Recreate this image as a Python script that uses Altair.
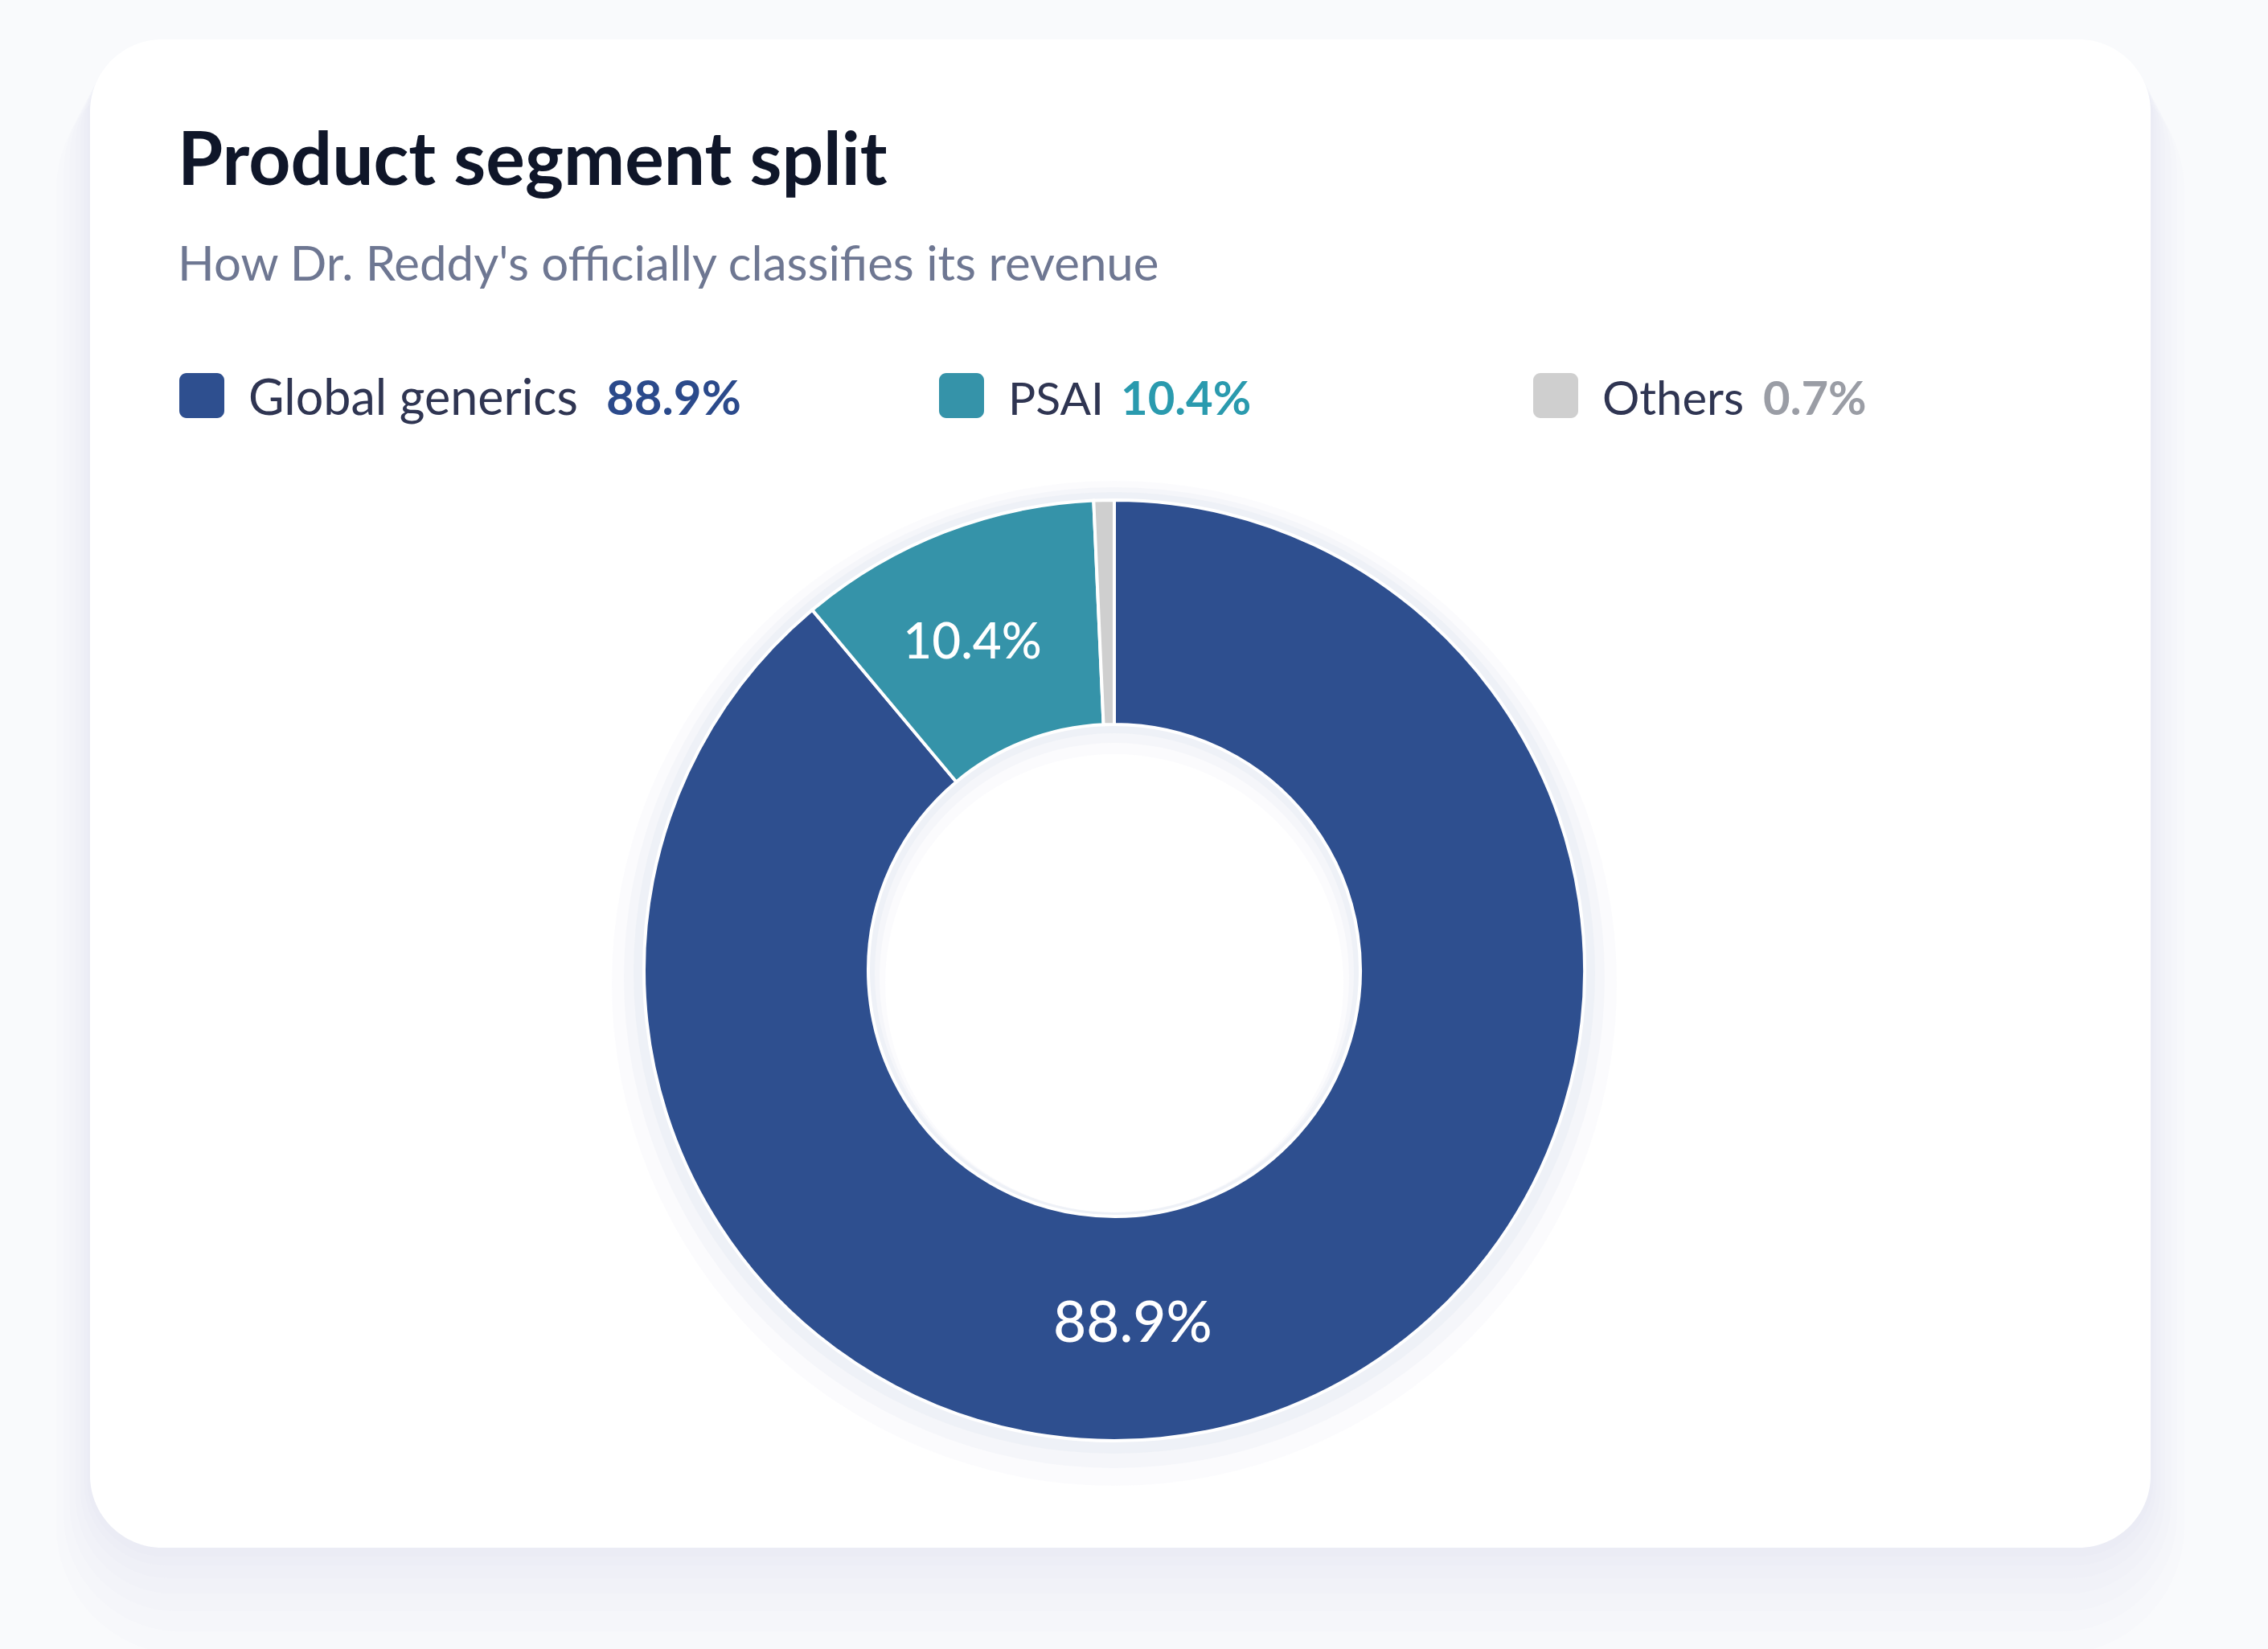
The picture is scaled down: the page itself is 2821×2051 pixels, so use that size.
import math
import altair as alt
import pandas as pd

# ---------------- data ----------------
segments = ["Global generics", "PSAI", "Others"]
shares = [88.9, 10.4, 0.7]
seg_colors = ["#2E4F8F", "#3593A9", "#CFCFCF"]
pct_colors = ["#2B4A8B", "#2A9AAE", "#9A9DA5"]

title_text = "Product segment split"
subtitle_text = "How Dr. Reddy's officially classifies its revenue"

df = pd.DataFrame({
    "segment": segments,
    "share": shares,
    "idx": list(range(len(segments))),
    "pct": [f"{v}%" for v in shares],
})

W, H = 2821, 2051
FONT = "Lato"
CX, CY = 1386, 1207
R_OUT, R_IN = 585, 306

one = pd.DataFrame({"k": [0]})
layers = []

# ---------------- card shadow + card ----------------
card = dict(x=112, x2=2675, y=49, y2=1925)
for i, e in enumerate([70, 55, 42, 30, 20, 12, 6]):
    off = int(e * 0.9)
    layers.append(
        alt.Chart(one).mark_rect(cornerRadius=90 + e, fill="#c9d2df", opacity=0.045)
        .encode(x=alt.value(card["x"] - e * 0.6), x2=alt.value(card["x2"] + e * 0.6),
                y=alt.value(card["y"] - e * 0.5 + off), y2=alt.value(card["y2"] + e + off))
    )
layers.append(
    alt.Chart(one).mark_rect(cornerRadius=90, fill="#ffffff")
    .encode(x=alt.value(card["x"]), x2=alt.value(card["x2"]),
            y=alt.value(card["y"]), y2=alt.value(card["y2"]))
)

# ---------------- title ----------------
layers.append(
    alt.Chart(one).mark_text(text=title_text, font=FONT, fontSize=91, fontWeight="bold",
                             color="#0F1629", align="left", baseline="alphabetic")
    .encode(x=alt.value(221), y=alt.value(230))
)
layers.append(
    alt.Chart(one).mark_text(text=subtitle_text, font=FONT, fontSize=60,
                             color="#6E7792", align="left", baseline="alphabetic")
    .encode(x=alt.value(221), y=alt.value(349))
)

# ---------------- legend ----------------
leg_sw = [223, 1168, 1907]
leg_lab = [309, 1254, 1993]
leg_pct = [754, 1394, 2193]
lab_size = [61, 57, 58]
color_scale = alt.Scale(domain=segments, range=seg_colors)
for i, seg in enumerate(segments):
    sub = df[df["segment"] == seg]
    layers.append(
        alt.Chart(sub).mark_rect(cornerRadius=9)
        .encode(x=alt.value(leg_sw[i]), x2=alt.value(leg_sw[i] + 56),
                y=alt.value(464), y2=alt.value(520),
                color=alt.Color("segment:N", scale=color_scale, legend=None))
    )
    layers.append(
        alt.Chart(sub).mark_text(font=FONT, fontSize=lab_size[i], color="#2F3552",
                                 align="left", baseline="alphabetic")
        .encode(x=alt.value(leg_lab[i]), y=alt.value(516), text="segment:N")
    )
    layers.append(
        alt.Chart(sub).mark_text(font=FONT, fontSize=60 if i == 0 else 58, fontWeight="bold",
                                 color=pct_colors[i], align="left", baseline="alphabetic")
        .encode(x=alt.value(leg_pct[i]), y=alt.value(516), text="pct:N")
    )

# ---------------- donut halo ----------------
for rr, r2, op, dy in [(625, 285, 0.10, 16), (610, 292, 0.14, 9), (598, 298, 0.18, 3)]:
    layers.append(
        alt.Chart(one).mark_arc(radius=rr, radius2=r2, fill="#d5dce7", opacity=op)
        .encode(theta=alt.value(0), theta2=alt.value(2 * math.pi),
                x=alt.value(CX), y=alt.value(CY + dy))
    )

# ---------------- donut ----------------
layers.append(
    alt.Chart(df).mark_arc(radius=R_OUT, radius2=R_IN, stroke="#ffffff", strokeWidth=4)
    .encode(theta=alt.Theta("share:Q", stack=True),
            order=alt.Order("idx:Q"),
            color=alt.Color("segment:N", scale=color_scale, legend=None),
            x=alt.value(CX), y=alt.value(CY))
)

# inner labels
layers.append(
    alt.Chart(df).mark_text(radius=444, thetaOffset=-0.038, font=FONT, fontSize=62, fontWeight=500,
                            color="#ffffff", align="center", baseline="middle")
    .encode(theta=alt.Theta("share:Q", stack=True), order=alt.Order("idx:Q"),
            text=alt.Text("lbl:N"), x=alt.value(CX), y=alt.value(CY))
    .transform_calculate(lbl="datum.segment == 'PSAI' ? datum.pct : ''")
)
layers.append(
    alt.Chart(df).mark_text(radius=442, thetaOffset=0.297, font=FONT, fontSize=71, fontWeight=500,
                            color="#ffffff", align="center", baseline="middle")
    .encode(theta=alt.Theta("share:Q", stack=True), order=alt.Order("idx:Q"),
            text=alt.Text("lbl:N"), x=alt.value(CX), y=alt.value(CY))
    .transform_calculate(lbl="datum.segment == 'Global generics' ? datum.pct : ''")
)

chart = alt.layer(*layers).properties(
    width=W, height=H, padding=0,
    autosize=alt.AutoSizeParams(type="fit", contains="padding"),
    background="#F9FAFC",
).configure_view(stroke=None)

chart.save("out.html", embed_options={"renderer": "svg", "actions": False})
